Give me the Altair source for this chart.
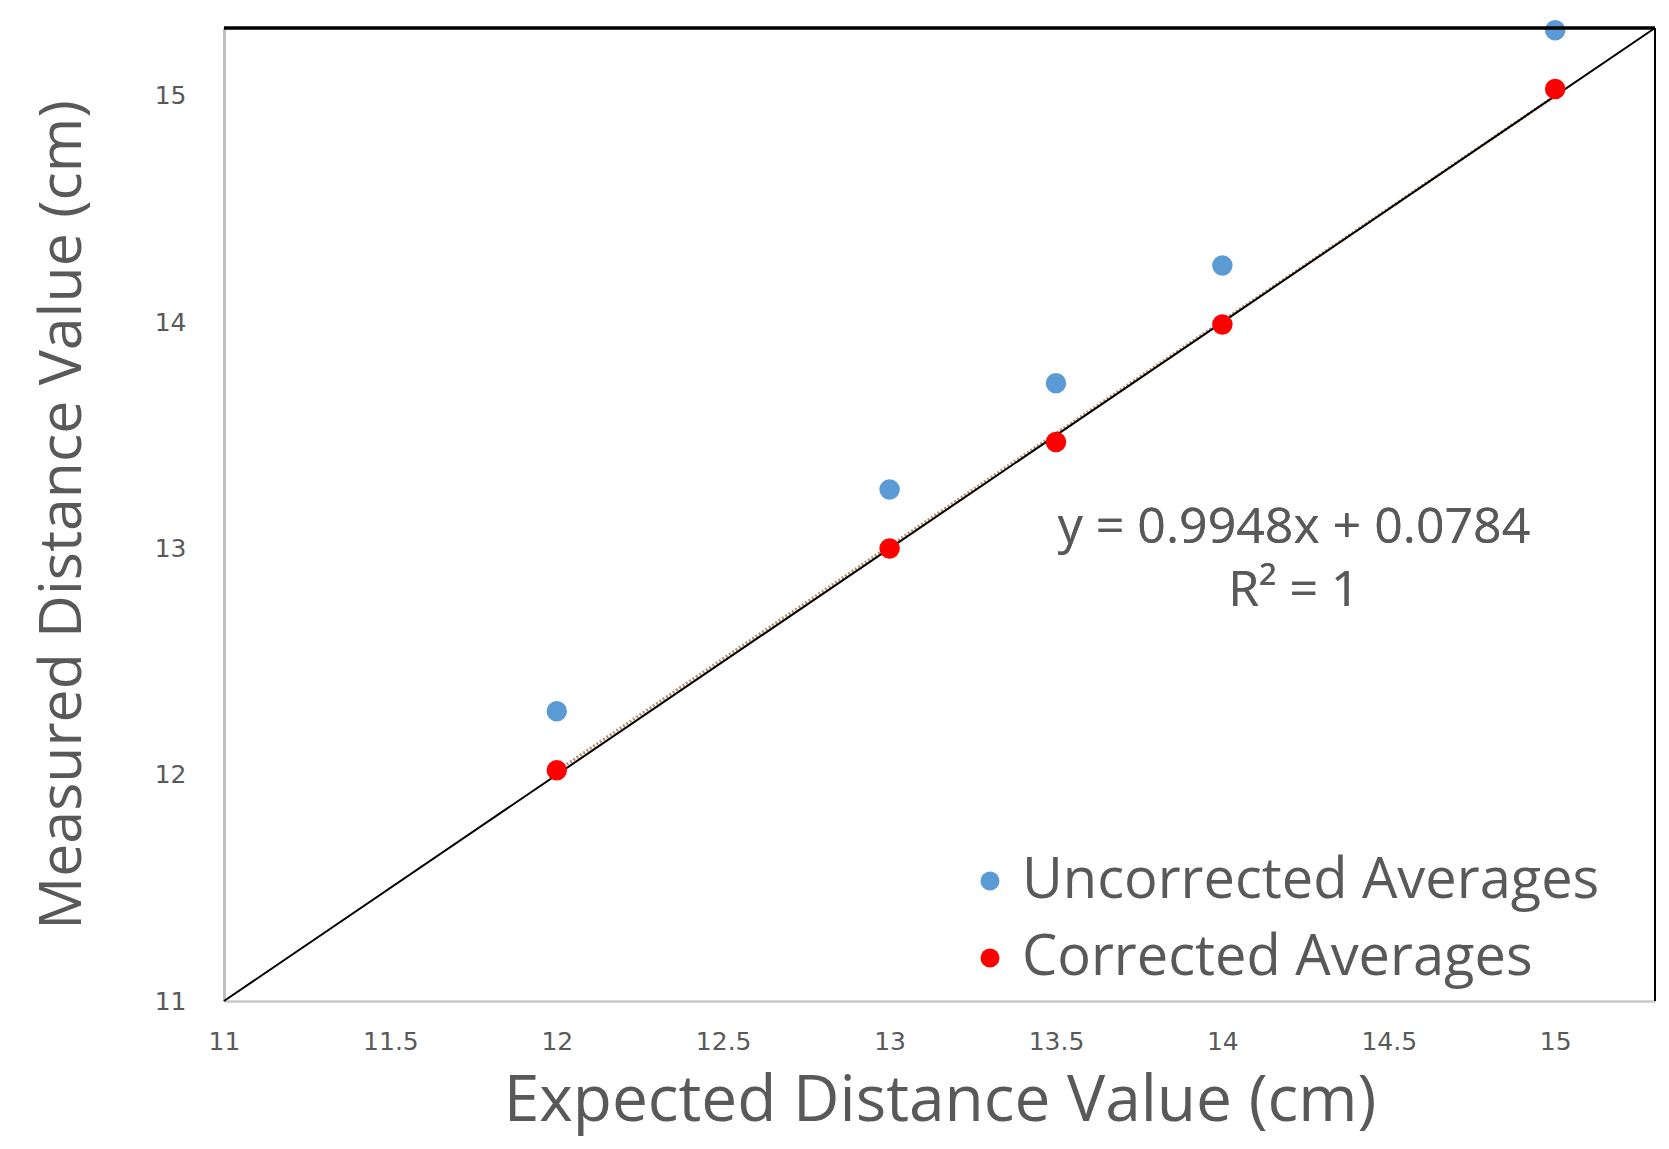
import altair as alt
import pandas as pd

# ---- data ----
expected = [12, 13, 13.5, 14, 15]
uncorrected = [12.28, 13.26, 13.73, 14.25, 15.29]
corrected = [12.02, 13.0, 13.47, 13.99, 15.03]
series_names = ["Uncorrected Averages", "Corrected Averages"]
series_colors = ["#5B9BD5", "#FF0000"]

ideal_x = [11, 15.3]
ideal_y = [11, 15.3]
trend_x = [12, 15]
trend_y = [12.016, 15.0]

x_ticks = [11, 11.5, 12, 12.5, 13, 13.5, 14, 14.5, 15]
y_ticks = [11, 12, 13, 14, 15]
equation_lines = ["y = 0.9948x + 0.0784", "R² = 1"]

X_DOMAIN = [11, 15.3]
Y_DOMAIN = [11, 15.3]
W, H = 1431, 973
TXT = "#595959"
FONT = "Open Sans"

pts = pd.DataFrame({
    "x": expected * 2,
    "y": uncorrected + corrected,
    "series": [series_names[0]] * len(expected) + [series_names[1]] * len(expected),
})
ideal = pd.DataFrame({"x": ideal_x, "y": ideal_y})
trend = pd.DataFrame({"x": trend_x, "y": trend_y})

xs = alt.Scale(domain=X_DOMAIN, nice=False, zero=False)
ys = alt.Scale(domain=Y_DOMAIN, nice=False, zero=False)

x_axis = alt.Axis(
    values=x_ticks, format="~g", title="Expected Distance Value (cm)", grid=False, ticks=False,
    domainColor="#C8C8C8", domainWidth=2.5, labelFont="DejaVu Sans", labelFontSize=25,
    labelColor=TXT, labelPadding=28, titleFont=FONT, titleFontSize=64, titleColor=TXT,
    titleFontWeight="normal", titlePadding=15, labelFlush=False,
)
y_axis = alt.Axis(
    values=y_ticks, format="~g", title="Measured Distance Value (cm)", grid=False, ticks=False,
    domainColor="#BFBFBF", domainWidth=3, labelFont="DejaVu Sans", labelFontSize=25,
    labelColor=TXT, labelPadding=38, titleFont=FONT, titleFontSize=59, titleColor=TXT,
    titleFontWeight="normal", titlePadding=62, labelFlush=False,
)

trend_line = alt.Chart(trend).mark_line(
    color="#B8906A", strokeWidth=3, strokeDash=[2, 2]
).encode(
    x=alt.X("x:Q", scale=xs, axis=x_axis),
    y=alt.Y("y:Q", scale=ys, axis=y_axis),
)

ideal_line = alt.Chart(ideal).mark_line(color="#000000", strokeWidth=2).encode(
    x=alt.X("x:Q", scale=xs),
    y=alt.Y("y:Q", scale=ys),
)

points = alt.Chart(pts).mark_circle(size=420, opacity=1).encode(
    x=alt.X("x:Q", scale=xs),
    y=alt.Y("y:Q", scale=ys),
    color=alt.Color(
        "series:N",
        scale=alt.Scale(domain=series_names, range=series_colors),
        sort=series_names,
        legend=alt.Legend(
            title=None, orient="none", legendX=738, legendY=825,
            labelFont=FONT, labelFontSize=56, labelColor=TXT, labelLimit=0,
            symbolType="circle", symbolSize=360, symbolStrokeWidth=0,
            symbolOpacity=1, rowPadding=21, labelOffset=4, padding=0,
        ),
    ),
)

top_border = alt.Chart(ideal).mark_rule(color="#000000", strokeWidth=3).encode(
    x=alt.value(0), x2=alt.value(W), y=alt.value(0)
)
right_border = alt.Chart(ideal).mark_rule(color="#000000", strokeWidth=2).encode(
    x=alt.value(W), y=alt.value(0), y2=alt.value(H)
)

eq1 = alt.Chart(ideal).mark_text(
    text=equation_lines[0], font=FONT, fontSize=50, color=TXT, align="center", baseline="middle"
).encode(x=alt.value(1070), y=alt.value(500))
eq2 = alt.Chart(ideal).mark_text(
    text=equation_lines[1], font=FONT, fontSize=50, color=TXT, align="center", baseline="middle"
).encode(x=alt.value(1070), y=alt.value(563))

chart = alt.layer(
    trend_line, ideal_line, points, top_border, right_border, eq1, eq2
).properties(
    width=W, height=H,
    autosize=alt.AutoSizeParams(type="none"),
    padding={"left": 216, "top": 20, "right": 6, "bottom": 140},
).configure_view(stroke=None).configure(background="white")

chart.save("out.html", embed_options={"renderer": "svg", "actions": False})
